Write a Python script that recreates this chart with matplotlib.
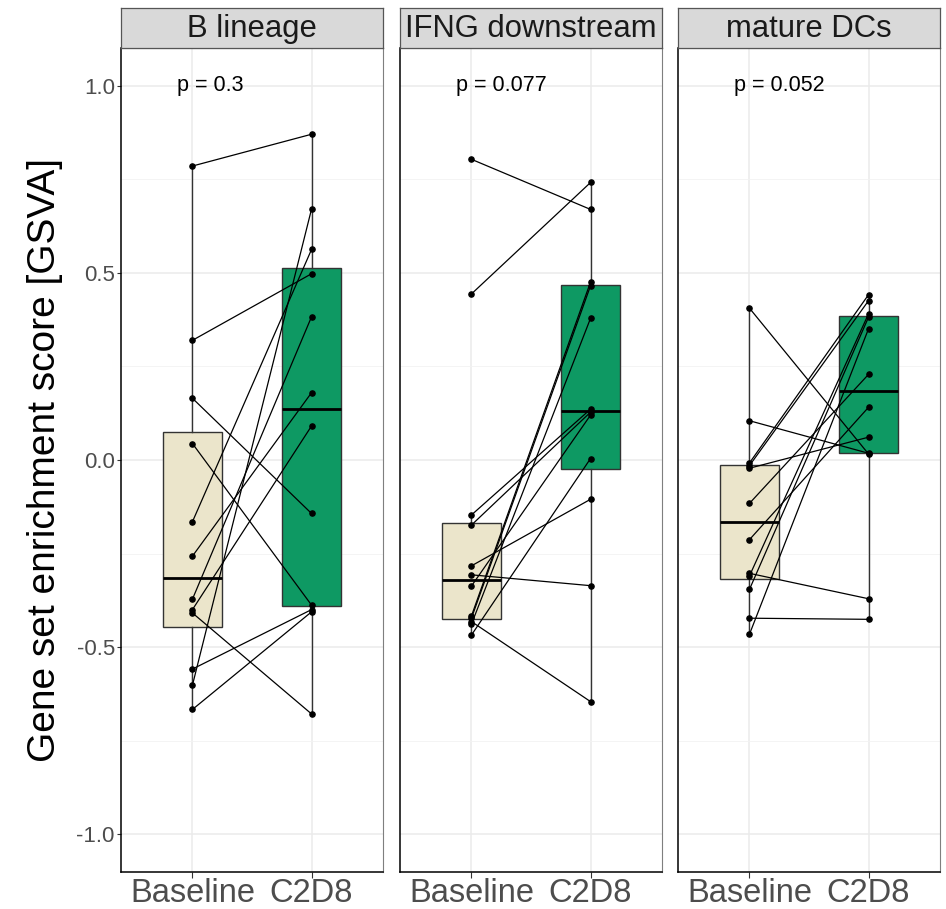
import numpy as np
import matplotlib
matplotlib.use("Agg")
import matplotlib.pyplot as plt

plt.rcParams['font.family'] = ['Liberation Sans', 'DejaVu Sans']

# gene set panels
panels = ["B lineage", "IFNG downstream", "mature DCs"]
p_labels = ["p = 0.3", "p = 0.077", "p = 0.052"]
groups = ["Baseline", "C2D8"]

# paired GSVA scores (same patient order in both lists)
b_lineage_baseline = [0.786, 0.320, 0.165, 0.044, -0.165, -0.257, -0.372, -0.400, -0.409, -0.559, -0.602, -0.667]
b_lineage_c2d8 = [0.871, 0.498, -0.143, -0.388, 0.563, 0.180, 0.383, 0.091, -0.679, -0.400, 0.671, -0.406]

ifng_baseline = [0.804, 0.444, -0.147, -0.174, -0.283, -0.307, -0.337, -0.417, -0.423, -0.432, -0.439, -0.468]
ifng_c2d8 = [0.670, 0.742, 0.136, 0.128, -0.105, -0.336, 0.120, 0.476, 0.466, -0.646, 0.379, 0.004]

dcs_baseline = [0.406, 0.105, -0.008, -0.015, -0.022, -0.116, -0.213, -0.303, -0.310, -0.346, -0.423, -0.466]
dcs_c2d8 = [0.016, 0.018, 0.442, 0.426, 0.061, 0.229, 0.141, -0.371, 0.391, 0.382, -0.426, 0.351]

data = [(b_lineage_baseline, b_lineage_c2d8),
        (ifng_baseline, ifng_c2d8),
        (dcs_baseline, dcs_c2d8)]

box_colors = ["#EBE5CB", "#0E9963"]

W, H = 946, 909
fig = plt.figure(figsize=(W / 100, H / 100), dpi=100)

lefts = [121, 400, 678]
pw = 262
top, bottom = 48, 872
strip_top = 8

for i, (name, plab, (base, post)) in enumerate(zip(panels, p_labels, data)):
    ax = fig.add_axes([lefts[i] / W, (H - bottom) / H, pw / W, (bottom - top) / H])

    # boxes
    bp = ax.boxplot([base, post], positions=[1, 2], widths=0.5, patch_artist=True,
                    showfliers=False, showcaps=False, whis=1.5, zorder=2)
    for patch, c in zip(bp['boxes'], box_colors):
        patch.set_facecolor(c)
        patch.set_edgecolor('#333333')
        patch.set_linewidth(1.0)
    for w in bp['whiskers']:
        w.set_color('#333333')
        w.set_linewidth(1.0)
    for m in bp['medians']:
        m.set_color('black')
        m.set_linewidth(2.0)

    # paired lines and points
    for b, p in zip(base, post):
        ax.plot([1, 2], [b, p], color='black', lw=0.9, zorder=3)
    ax.scatter(np.ones(len(base)), base, s=14, color='black', zorder=4)
    ax.scatter(np.full(len(post), 2), post, s=14, color='black', zorder=4)

    ax.text(0.87, 1.0, plab, fontsize=15.5, ha='left', va='center', zorder=5)

    ax.set_xlim(0.4, 2.6)
    ax.set_ylim(-1.1016, 1.1016)
    ax.set_xticks([1, 2])
    ax.set_xticklabels(groups, fontsize=23.5, color='#4D4D4D')
    ax.set_yticks([-1.0, -0.5, 0.0, 0.5, 1.0])
    ax.set_yticks([-0.75, -0.25, 0.25, 0.75], minor=True)
    if i == 0:
        ax.set_yticklabels(["-1.0", "-0.5", "0.0", "0.5", "1.0"], fontsize=16, color='#4D4D4D')
        ax.tick_params(axis='y', which='major', length=3, color='#333333', pad=1.5)
    else:
        ax.set_yticklabels([])
        ax.tick_params(axis='y', which='major', length=0)
    ax.tick_params(axis='x', which='major', length=4, color='#333333', pad=0.5)
    ax.tick_params(axis='y', which='minor', length=0)
    ax.grid(which='major', color='#EBEBEB', lw=1.1, zorder=0)
    ax.grid(which='minor', axis='y', color='#F2F2F2', lw=0.6, zorder=0)
    ax.set_axisbelow(True)
    for side in ['top', 'right']:
        ax.spines[side].set_color('#7F7F7F')
        ax.spines[side].set_linewidth(0.8)
    for side in ['left', 'bottom']:
        ax.spines[side].set_color('black')
        ax.spines[side].set_linewidth(1.1)

    # facet strip
    sax = fig.add_axes([lefts[i] / W, (H - top) / H, pw / W, (top - strip_top) / H])
    sax.set_facecolor('#D9D9D9')
    sax.set_xticks([])
    sax.set_yticks([])
    for sp in sax.spines.values():
        sp.set_color('#555555')
        sp.set_linewidth(0.9)
    sax.text(0.5, 0.47, name, fontsize=22.3, ha='center', va='center',
             color='#1A1A1A', transform=sax.transAxes)

fig.text(45 / W, 1 - ((top + bottom) / 2) / H, "Gene set enrichment score [GSVA]",
         rotation=90, fontsize=28, ha='center', va='center')

fig.savefig("out.png", dpi=100)
